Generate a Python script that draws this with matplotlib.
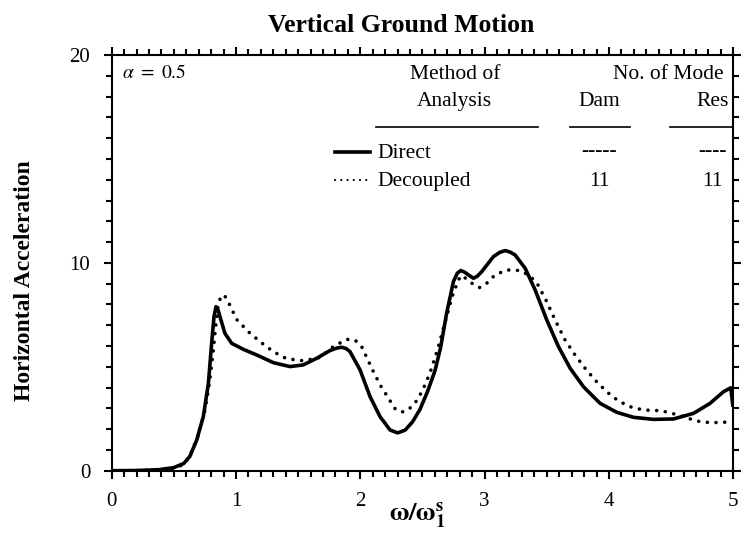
"""
Vertical ground motion: horizontal acceleration response, direct vs decoupled.
"""

import matplotlib
matplotlib.use('Agg')
import matplotlib.pyplot as plt
from matplotlib.ticker import MultipleLocator

plt.rcParams['font.family'] = ['Liberation Serif', 'DejaVu Serif']
plt.rcParams['mathtext.fontset'] = 'stix'

# Direct (solid line)
direct_x = [0.0, 0.2, 0.38, 0.5, 0.58, 0.63, 0.684, 0.737, 0.778, 0.804, 0.823,
            0.839, 0.855, 0.871, 0.911, 0.965, 1.059, 1.166, 1.3, 1.434, 1.541,
            1.649, 1.756, 1.81, 1.85, 1.885, 1.917, 1.998, 2.078, 2.159, 2.239,
            2.30, 2.36, 2.42, 2.48, 2.54, 2.60, 2.645, 2.695, 2.749, 2.78,
            2.808, 2.84, 2.87, 2.91, 2.94, 2.977, 3.071, 3.12, 3.165, 3.205,
            3.245, 3.326, 3.406, 3.5, 3.594, 3.688, 3.795, 3.929, 4.063, 4.197,
            4.358, 4.519, 4.68, 4.813, 4.921, 4.98, 4.996]
direct_y = [0.0, 0.01, 0.05, 0.15, 0.35, 0.7, 1.48, 2.6, 4.2, 6.13, 7.41,
            7.89, 7.75, 7.41, 6.61, 6.13, 5.84, 5.57, 5.2, 5.01, 5.09,
            5.41, 5.78, 5.9, 5.94, 5.88, 5.73, 4.85, 3.57, 2.6, 1.96,
            1.82, 1.95, 2.35, 2.95, 3.8, 4.8, 5.9, 7.6, 9.1, 9.5,
            9.63, 9.55, 9.42, 9.26, 9.35, 9.58, 10.3, 10.5, 10.59, 10.52,
            10.38, 9.74, 8.7, 7.25, 5.97, 4.93, 4.04, 3.24, 2.81, 2.57,
            2.47, 2.49, 2.76, 3.24, 3.8, 3.99, 3.16]

# Decoupled (dotted line)
decoupled_x = [0.0, 0.2, 0.38, 0.5, 0.58, 0.60, 0.643, 0.697, 0.751, 0.786,
               0.818, 0.839, 0.858, 0.885, 0.911, 0.946, 1.005, 1.099, 1.193,
               1.3, 1.407, 1.541, 1.675, 1.783, 1.89, 1.957, 2.011, 2.092,
               2.159, 2.226, 2.28, 2.33, 2.38, 2.44, 2.5, 2.56, 2.62, 2.68,
               2.74, 2.79, 2.82, 2.856, 2.897, 2.958, 3.017, 3.084, 3.178,
               3.285, 3.352, 3.419, 3.5, 3.567, 3.647, 3.727, 3.808, 3.888,
               3.955, 4.022, 4.089, 4.17, 4.277, 4.411, 4.491, 4.599, 4.706,
               4.813, 4.921, 4.996]
decoupled_y = [0.0, 0.01, 0.04, 0.12, 0.3, 0.45, 0.9, 1.72, 2.92, 4.2,
               5.81, 7.09, 8.05, 8.45, 8.4, 8.02, 7.28, 6.69, 6.21,
               5.73, 5.39, 5.29, 5.45, 5.97, 6.32, 6.29, 5.97, 4.93,
               4.13, 3.49, 2.98, 2.82, 2.9, 3.25, 3.85, 4.7, 5.8, 7.1,
               8.4, 9.2, 9.4, 9.21, 9.02, 8.81, 9.02, 9.42, 9.66,
               9.63, 9.42, 9.05, 8.13, 7.25, 6.29, 5.57, 4.93, 4.36,
               3.96, 3.59, 3.32, 3.08, 2.92, 2.89, 2.79, 2.6, 2.39,
               2.31, 2.33, 2.36]

fig = plt.figure(figsize=(7.53, 5.44), dpi=100)
ax = fig.add_axes([0.1483, 0.1347, 0.8255, 0.7642])

ax.plot(direct_x, direct_y, color='black', lw=2.6, solid_joinstyle='round')
ax.plot(decoupled_x, decoupled_y, color='black', lw=2.6,
        linestyle=(0, (0.01, 2.4)), dash_capstyle='round')

ax.set_xlim(0, 5)
ax.set_ylim(0, 20)
ax.xaxis.set_major_locator(MultipleLocator(1))
ax.xaxis.set_minor_locator(MultipleLocator(0.1))
ax.yaxis.set_major_locator(MultipleLocator(10))
ax.yaxis.set_minor_locator(MultipleLocator(1))
ax.tick_params(which='both', direction='out', top=True, right=True,
               labelsize=15, width=1.5)
ax.tick_params(which='major', length=5.5, pad=10)
ax.tick_params(which='minor', length=4)
for s in ax.spines.values():
    s.set_linewidth(1.5)

fig.text(0.5325, 0.942, 'Vertical Ground Motion', fontsize=18.5,
         fontweight='bold', ha='center', va='baseline')
ax.set_ylabel('Horizontal Acceleration', fontsize=17, fontweight='bold')
ax.yaxis.set_label_coords(-0.124, 0.457)
ax.set_xlabel(r'$\mathbf{\omega/\omega_1^s}$', fontsize=19)
ax.xaxis.set_label_coords(0.491, -0.072)

# legend table
tr = ax.transAxes
fs = 15.5
ax.text(0.016, 0.957, r'$\alpha\ =\ 0.5$', transform=tr, fontsize=14,
        ha='left', va='center')
ax.text(0.552, 0.953, 'Method of', transform=tr, fontsize=fs, ha='center', va='center')
ax.text(0.552, 0.887, 'Analysis', transform=tr, fontsize=fs, ha='center', va='center')
ax.text(0.895, 0.953, 'No. of Mode', transform=tr, fontsize=fs, ha='center', va='center')
ax.text(0.784, 0.887, 'Dam', transform=tr, fontsize=fs, ha='center', va='center')
ax.text(0.966, 0.887, 'Res', transform=tr, fontsize=fs, ha='center', va='center')
for x0, x1 in [(0.425, 0.686), (0.737, 0.834), (0.898, 0.998)]:
    ax.plot([x0, x1], [0.826, 0.826], transform=tr, color='black', lw=1.2)

ax.plot([0.359, 0.416], [0.767, 0.767], transform=tr, color='black', lw=2.6)
ax.plot([0.359, 0.416], [0.699, 0.699], transform=tr, color='black', lw=1.6,
        linestyle=(0, (0.01, 2.8)), dash_capstyle='round')
ax.text(0.428, 0.763, 'Direct', transform=tr, fontsize=fs, ha='left', va='center')
ax.text(0.428, 0.695, 'Decoupled', transform=tr, fontsize=fs, ha='left', va='center')
ax.text(0.784, 0.770, '-----', transform=tr, fontsize=fs, ha='center', va='center',
        fontweight='bold')
ax.text(0.966, 0.770, '----', transform=tr, fontsize=fs, ha='center', va='center',
        fontweight='bold')
ax.text(0.784, 0.695, '11', transform=tr, fontsize=fs, ha='center', va='center')
ax.text(0.966, 0.695, '11', transform=tr, fontsize=fs, ha='center', va='center')

fig.savefig('out.png', dpi=100)
